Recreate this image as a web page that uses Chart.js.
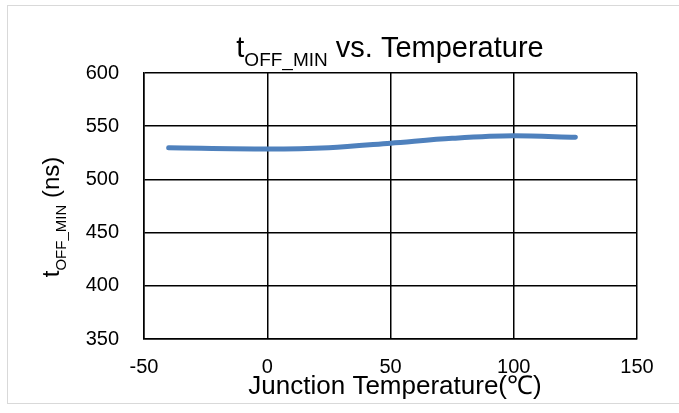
<!DOCTYPE html>
<html>
<head>
<meta charset="utf-8">
<script src="https://cdn.jsdelivr.net/npm/chart.js@4"></script>
<style>
  body { margin: 0; background: #fff; }
  #wrap { position: absolute; left: 0; top: 0; width: 679px; height: 413px; }
  #frame { position: absolute; left: 7px; top: 5px; width: 680px; height: 399px; border: 1px solid #d9d9d9; box-sizing: border-box; }
</style>
</head>
<body>
<div id="wrap">
  <div id="frame"></div>
  <canvas id="toffChart" width="679" height="413"></canvas>
</div>
<script>
const temps = [-40, 0, 25, 50, 75, 100, 125];
const toffMin = [529.7, 528.6, 529.8, 534, 538.6, 541, 539.6];
const xTicks = [-50, 0, 50, 100, 150];
const yTicks = [350, 400, 450, 500, 550, 600];

const FONT = "'Liberation Sans', Arial, sans-serif";

// draw text with a subscript part: [main, sub, rest]
function subText(ctx, parts, size, x, y) {
  const sub = Math.round(size * 0.64);
  ctx.font = size + "px " + FONT;
  const w0 = ctx.measureText(parts[0]).width;
  const w2 = ctx.measureText(parts[2]).width;
  ctx.font = sub + "px " + FONT;
  const w1 = ctx.measureText(parts[1]).width;
  let cx = x - (w0 + w1 + w2) / 2;
  ctx.textAlign = "left";
  ctx.textBaseline = "alphabetic";
  ctx.font = size + "px " + FONT;
  ctx.fillText(parts[0], cx, y);
  cx += w0;
  ctx.font = sub + "px " + FONT;
  ctx.fillText(parts[1], cx, y + size * 0.3);
  cx += w1;
  ctx.font = size + "px " + FONT;
  ctx.fillText(parts[2], cx, y);
}

const titles = {
  id: "titles",
  afterDraw(chart) {
    const ctx = chart.ctx;
    ctx.save();
    ctx.fillStyle = "#000";
    subText(ctx, ["t", "OFF_MIN", " vs. Temperature"], 29, 390, 57);
    ctx.font = "26px " + FONT;
    ctx.textAlign = "center";
    ctx.textBaseline = "alphabetic";
    ctx.fillText("Junction Temperature(\u2103)", 395, 394);
    ctx.translate(59, 217);
    ctx.rotate(-Math.PI / 2);
    subText(ctx, ["t", "OFF_MIN", " (ns)"], 24, 0, 0);
    ctx.restore();
  }
};

new Chart(document.getElementById("toffChart"), {
  type: "line",
  data: {
    datasets: [{
      data: temps.map((t, i) => ({ x: t, y: toffMin[i] })),
      borderColor: "#4f81bd",
      borderWidth: 5,
      pointRadius: 0,
      cubicInterpolationMode: "monotone",
      borderCapStyle: "round",
      fill: false
    }]
  },
  options: {
    responsive: false,
    animation: false,
    layout: { padding: { left: 0, top: 73, right: 42, bottom: 0 } },
    plugins: { legend: { display: false }, tooltip: { enabled: false } },
    scales: {
      x: {
        type: "linear",
        min: -50, max: 150,
        afterBuildTicks: s => { s.ticks = xTicks.map(v => ({ value: v })); },
        afterFit: s => { s.height = 74; },
        grid: { color: "#000", lineWidth: 1.5, drawTicks: false },
        border: { color: "#000", width: 1.5 },
        ticks: { color: "#000", font: { family: FONT, size: 20 }, padding: 16 }
      },
      y: {
        min: 350, max: 600,
        afterBuildTicks: s => { s.ticks = yTicks.map(v => ({ value: v })); },
        afterFit: s => { s.width = 144; },
        grid: { color: "#000", lineWidth: 1.5, drawTicks: false },
        border: { color: "#000", width: 1.5 },
        ticks: { color: "#000", font: { family: FONT, size: 20 }, padding: 25 }
      }
    }
  },
  plugins: [titles]
});
</script>
</body>
</html>
